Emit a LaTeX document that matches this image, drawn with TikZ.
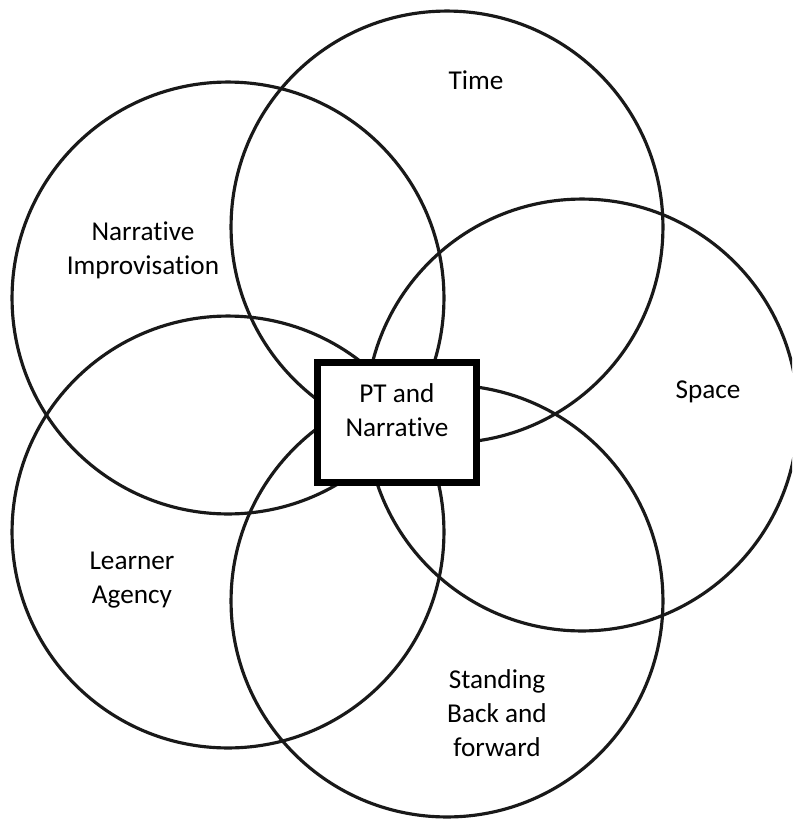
\documentclass[tikz,border=0pt]{standalone}
\usepackage{fontspec}
\setmainfont{Carlito}[Ligatures=NoCommon]

\begin{document}
\begin{tikzpicture}[x=0.02cm, y=-0.02cm, line width=1.8pt,
    ring/.style={draw=black!90},
    tag/.style={align=center, font=\fontsize{15.5}{19.5}\selectfont},
    corebox/.style={draw, fill=white, line width=4pt, minimum width=3.18cm, minimum height=2.4cm, inner sep=0pt}]
    \useasboundingbox (0,0) rectangle (792,819);
    \clip (0,0) rectangle (792,819);

    % the five rings
    \foreach \cx/\cy in {447/227, 228/298, 582/415, 228/532, 447/601}
        \draw[ring] (\cx,\cy) circle[radius=4.32cm];

    % centre box
    \node[corebox] (core) at (397,422.5) {};
    \node[tag] (coretext) at (397,410) {PT and\\Narrative};

    \node[tag] (time) at (476,80) {Time};
    \node[tag] (improv) at (143,250) {Narrative\\Improvisation};
    \node[tag] (space) at (708,392) {Space};
    \node[tag] (agency) at (132,580) {Learner\\Agency};
    \node[tag] (standing) at (497,713) {Standing\\Back and\\forward};
\end{tikzpicture}
\end{document}
